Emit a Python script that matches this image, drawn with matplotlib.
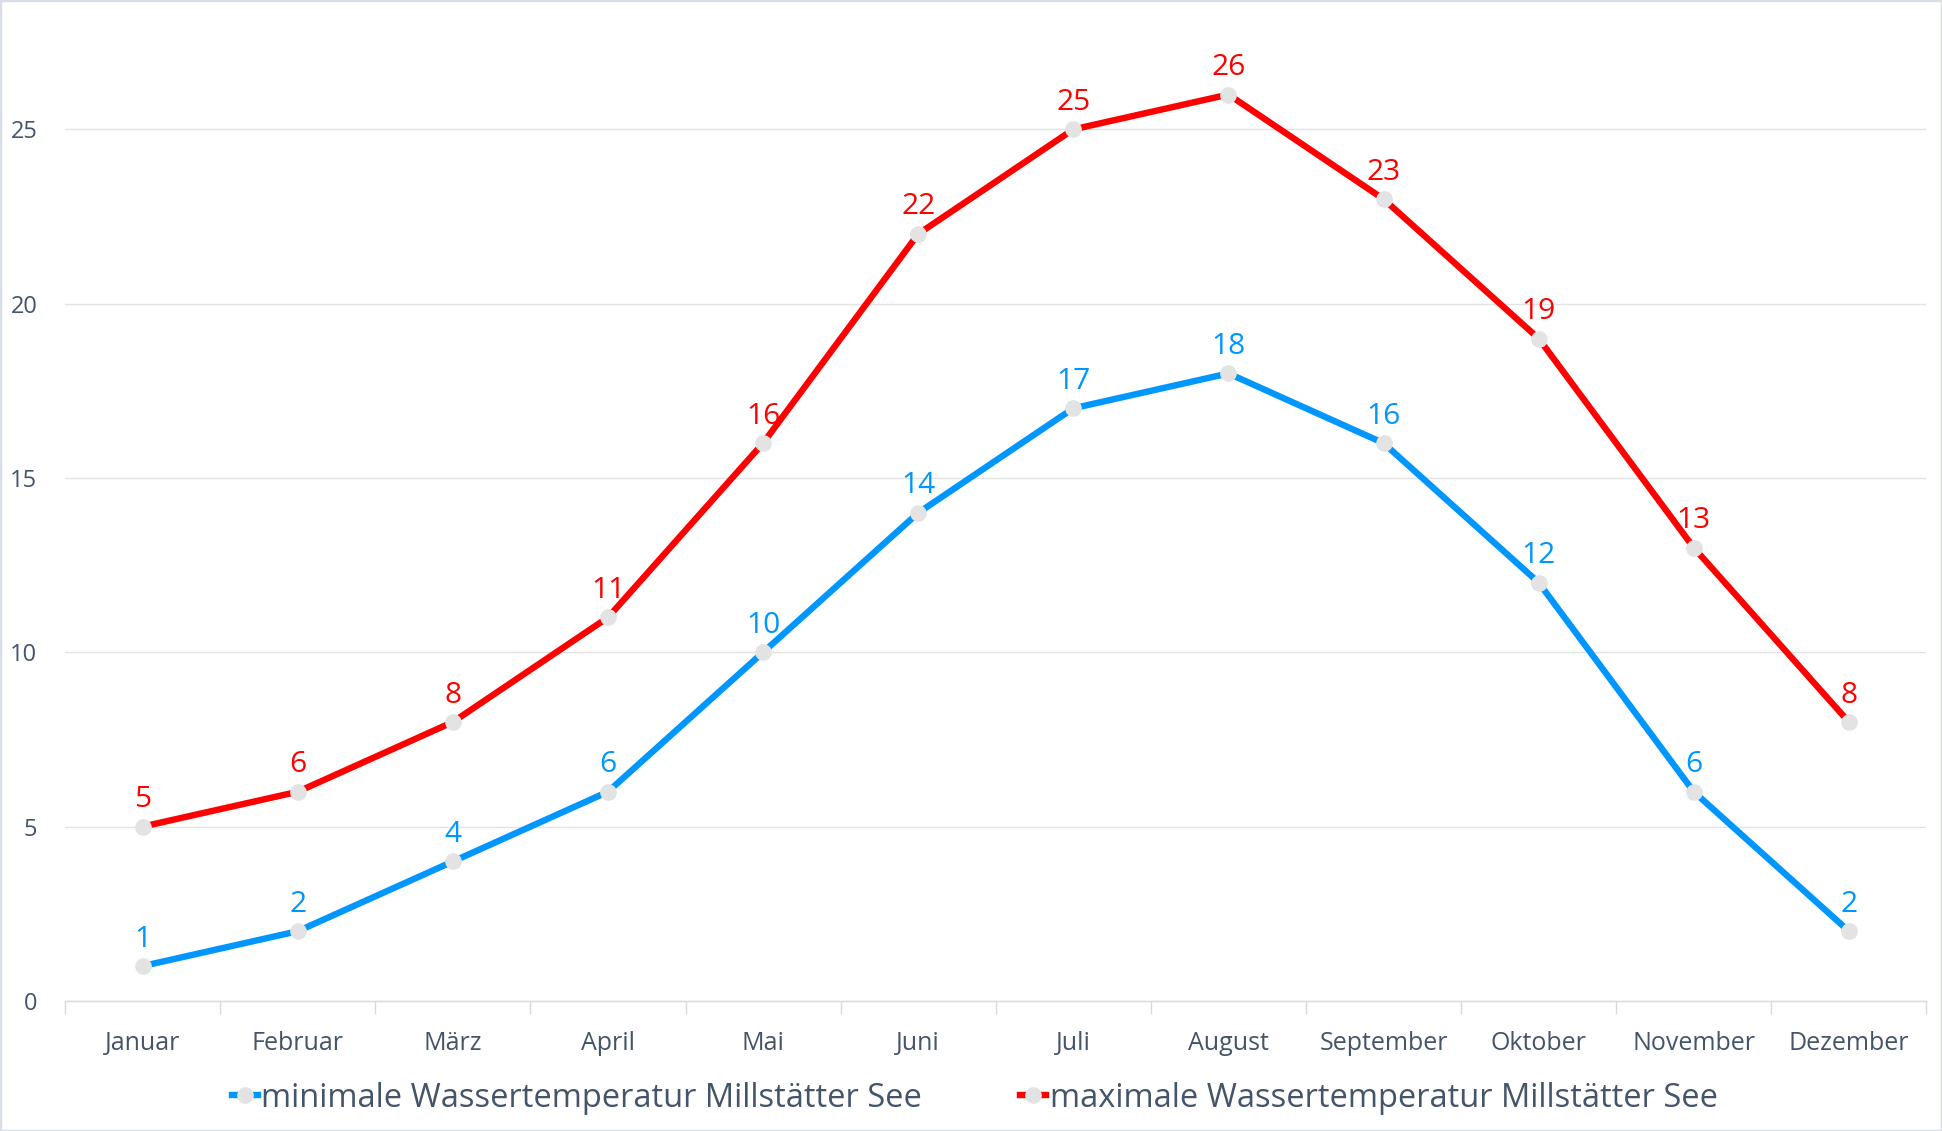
import matplotlib
matplotlib.use("Agg")
import matplotlib.pyplot as plt
from matplotlib.lines import Line2D
from matplotlib.patches import Rectangle

months = ["Januar", "Februar", "März", "April", "Mai", "Juni", "Juli",
          "August", "September", "Oktober", "November", "Dezember"]
min_temp = [1, 2, 4, 6, 10, 14, 17, 18, 16, 12, 6, 2]
max_temp = [5, 6, 8, 11, 16, 22, 25, 26, 23, 19, 13, 8]
yticks = [0, 5, 10, 15, 20, 25]
label_min = "minimale Wassertemperatur Millstätter See"
label_max = "maximale Wassertemperatur Millstätter See"

plt.rcParams['font.family'] = ['Open Sans', 'DejaVu Sans']
text_col = "#44546A"
blue = "#0096FF"
red = "#FF0000"
marker_col = "#E3E3E3"

fig = plt.figure(figsize=(19.42, 11.31), dpi=100)
ax = fig.add_axes([0.0335, 0.115, 0.9585, 0.86])

x = list(range(len(months)))
ax.plot(x, min_temp, color=blue, lw=4.6, marker='o', ms=11,
        mfc=marker_col, mec=marker_col, zorder=3, solid_capstyle='round')
ax.plot(x, max_temp, color=red, lw=4.6, marker='o', ms=11,
        mfc=marker_col, mec=marker_col, zorder=3, solid_capstyle='round')

for xi, v in zip(x, min_temp):
    ax.annotate(str(v), (xi, v), xytext=(0, 9), textcoords='offset points',
                ha='center', va='bottom', color=blue, fontsize=21.5)
for xi, v in zip(x, max_temp):
    ax.annotate(str(v), (xi, v), xytext=(0, 9), textcoords='offset points',
                ha='center', va='bottom', color=red, fontsize=21.5)

ax.set_xlim(-0.5, len(months) - 0.5)
ax.set_ylim(0, 27.9)
ax.set_yticks(yticks)
ax.set_yticklabels([str(t) for t in yticks], fontsize=17, color=text_col)
ax.set_xticks(x)
ax.set_xticklabels(months, fontsize=18, color=text_col)
ax.tick_params(axis='x', length=0, pad=22)
ax.tick_params(axis='y', length=0, pad=20)
ax.set_xticks([i + 0.5 for i in range(-1, len(months))], minor=True)
ax.tick_params(axis='x', which='minor', length=9, color="#D9D9D9", width=1)

ax.grid(axis='y', color="#E3E3E3", lw=1)
ax.set_axisbelow(True)
for s in ['top', 'right', 'left']:
    ax.spines[s].set_visible(False)
ax.spines['bottom'].set_color("#D9D9D9")
ax.spines['bottom'].set_linewidth(1)

handles = [Line2D([0], [0], color=blue, lw=4.6, marker='o', ms=11,
                  mfc=marker_col, mec=marker_col),
           Line2D([0], [0], color=red, lw=4.6, marker='o', ms=11,
                  mfc=marker_col, mec=marker_col)]
fig.legend(handles, [label_min, label_max], loc='center',
           bbox_to_anchor=(0.502, 0.029), ncol=2, frameon=False,
           fontsize=23.5, handlelength=0.8, handletextpad=0.1,
           columnspacing=3.0, labelcolor=text_col)

fig.patches.append(Rectangle((0, 0), 1, 1, transform=fig.transFigure,
                             fill=False, edgecolor="#D9DEE6", lw=2.5))

fig.savefig("out.png", dpi=100)
